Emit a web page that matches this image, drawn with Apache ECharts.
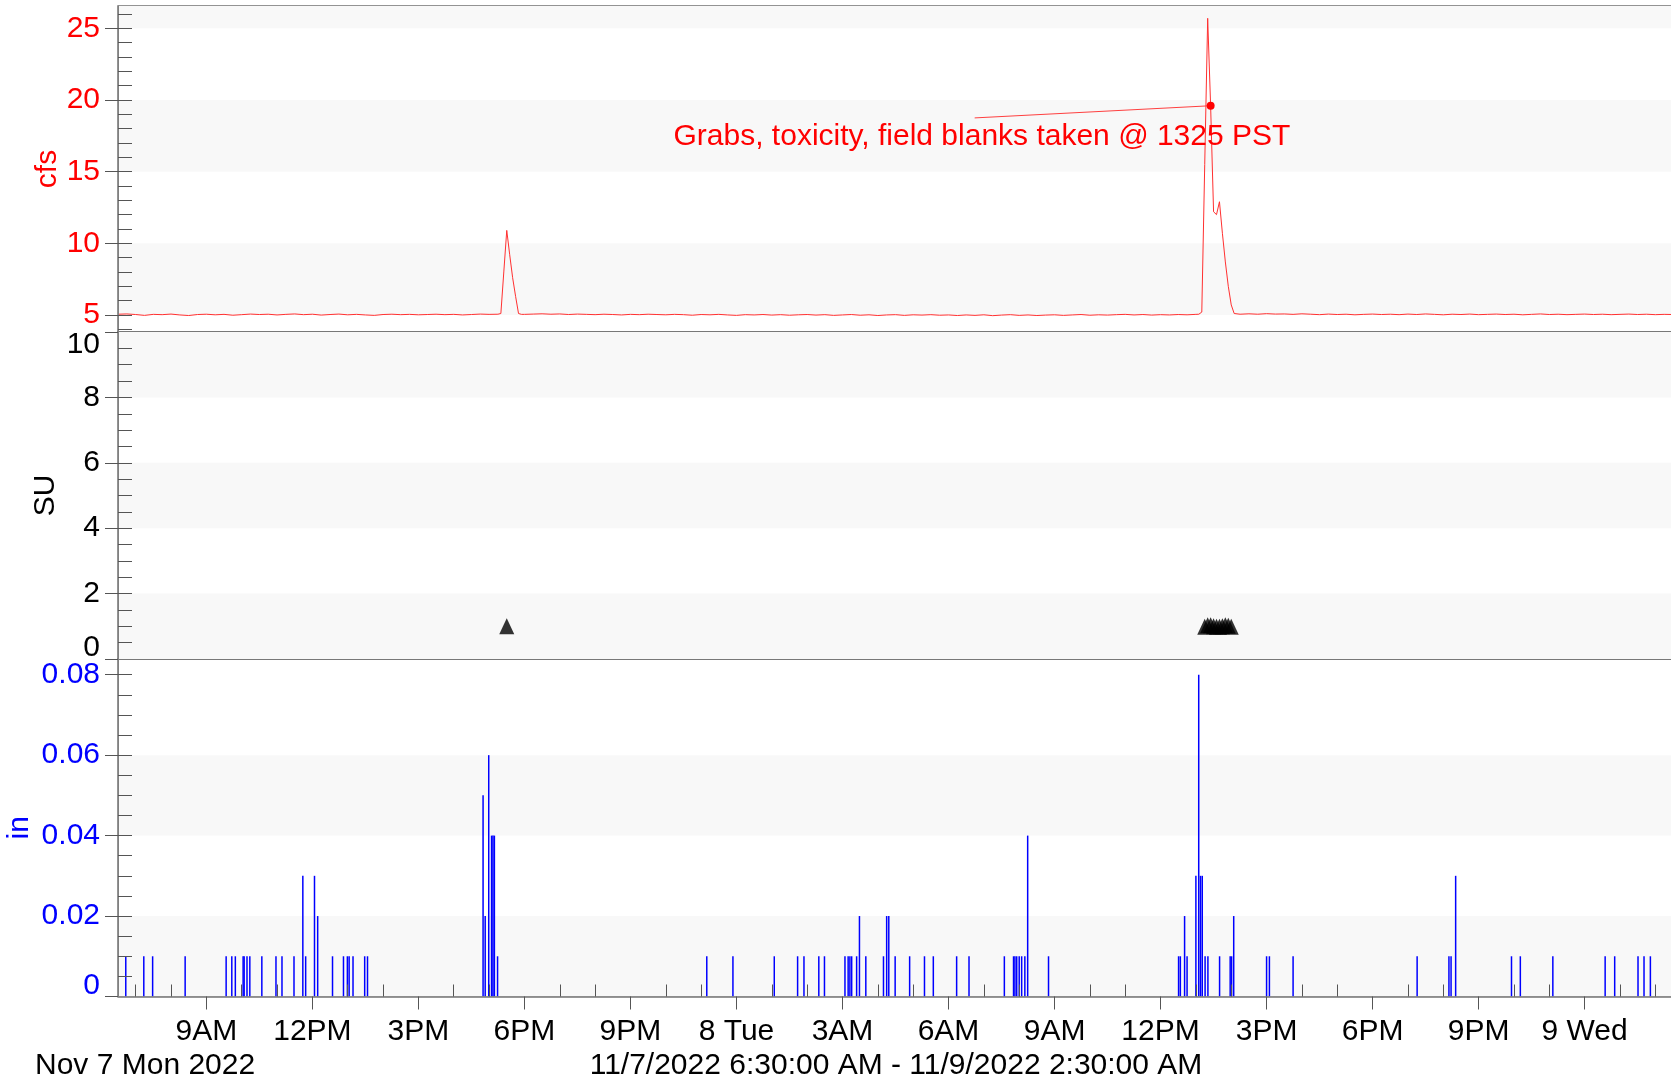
<!DOCTYPE html>
<html><head><meta charset="utf-8">
<script src="https://cdn.jsdelivr.net/npm/echarts@6/dist/echarts.min.js"></script>
<style>html,body{margin:0;padding:0;background:#fff}#c{width:1671px;height:1082px}</style>
</head><body><div id="c"></div>
<script>
// ---------- axis ticks / labels (x in hours since 11/7/2022 00:00) ----------
const xRange = [6.5, 50.5];
const xTickHours = [9,12,15,18,21,24,27,30,33,36,39,42,45,48];
const xTickLabels = ['9AM','12PM','3PM','6PM','9PM','8 Tue','3AM','6AM','9AM','12PM','3PM','6PM','9PM','9 Wed'];
const xMinorHours = [7,8,10,11,13,14,16,17,19,20,22,23,25,26,28,29,31,32,34,35,37,38,40,41,43,44,46,47,49,50];
const cfsTickValues = [5,10,15,20,25];
const cfsMinorValues = [4,5,6,7,8,9,10,11,12,13,14,15,16,17,18,19,20,21,22,23,24,25,26];
const suTickValues = [0,2,4,6,8,10];
const suMinorValues = [0.5,1,1.5,2,2.5,3,3.5,4,4.5,5,5.5,6,6.5,7,7.5,8,8.5,9,9.5];
const inTickValues = [0,0.02,0.04,0.06,0.08];
const inMinorValues = [0.005,0.01,0.015,0.02,0.025,0.03,0.035,0.04,0.045,0.05,0.055,0.06,0.065,0.07,0.075,0.08];

// ---------- cfs (flow) : 15-minute baseline from 6:30 Nov 7 ----------
const cfsBaseStart = 6.5, cfsBaseStep = 0.25;
const cfsBase = [
 5.05,5.07,5.03,4.97,5.04,5.02,5.06,5.00,4.96,5.03,5.05,5.01,
 5.04,4.98,5.02,5.06,5.03,5.05,5.00,5.04,5.07,5.02,5.05,4.99,
 5.03,5.06,5.01,5.04,5.00,4.97,5.03,5.05,5.02,5.04,5.01,5.03,
 5.05,5.02,5.04,5.00,5.03,5.06,5.04,5.05,5.05,5.05,5.04,5.06,
 5.08,5.05,5.07,5.03,5.06,5.04,5.02,5.05,5.03,5.00,5.04,5.02,
 5.05,5.03,5.01,5.04,5.02,4.98,5.03,5.01,5.04,5.00,4.97,5.02,
 5.00,5.03,4.99,5.02,4.98,5.01,5.03,4.99,5.02,4.97,5.00,5.03,
 4.98,5.01,4.96,5.00,5.02,4.97,5.01,4.99,5.02,4.98,5.00,4.96,
 5.00,4.97,5.01,4.95,4.99,5.02,4.97,5.00,4.96,4.99,5.01,4.97,
 5.00,5.03,4.98,5.01,4.99,5.02,5.04,5.00,5.03,4.99,5.02,5.00,
 5.03,5.01,5.04,5.05,5.05,5.05,5.05,5.05,5.08,5.05,5.09,5.06,
 5.07,5.04,5.08,5.05,5.02,5.06,5.03,5.05,5.01,5.04,5.06,5.03,
 5.05,5.02,5.06,5.03,5.07,5.04,5.01,5.05,5.03,5.06,5.02,5.04,
 5.06,5.03,5.05,5.01,5.04,5.07,5.03,5.05,5.02,5.04,5.06,5.03,
 5.05,5.02,5.04,5.06,5.03,5.05,5.02,5.04,5.03
];
// 5-minute detail around the two flow peaks
const cfsSpike1Start = 17.25;            // 17:15 Nov 7
const cfsSpike1 = [5.05,5.10,8.0,10.9,9.2,7.6,6.3,5.1,5.04];
const cfsSpike2Start = 37 + 1/12;        // 13:05 Nov 8
const cfsSpike2 = [5.05,5.2,15.5,25.7,19.6,12.2,12.0,12.9,10.7,8.7,7.0,5.7,5.1];
const spikeStep = 1/12;

// ---------- SU ----------
const suTimes = [17.5, 37.25,37.3333,37.4167,37.5,37.5833,37.6667,37.75,37.8333,37.9167,38.0];
const suValues = [1.0, 0.99,1.03,1.03,1.0,0.99,0.99,1.0,1.03,1.02,0.99];

// ---------- rain (in) ----------
const rainTimes = [
 6.72,7.23,7.48,8.40,9.56,9.72,9.82,10.04,10.07,10.15,10.23,10.57,10.97,11.14,11.48,11.73,11.81,12.06,12.15,12.57,12.88,12.99,13.04,13.15,13.48,13.56,
 16.83,16.89,16.99,17.07,17.11,17.15,17.24,
 23.16,23.90,25.07,25.73,25.91,26.33,26.49,27.07,27.16,27.21,27.26,27.40,27.48,27.66,28.16,28.25,28.31,28.49,28.90,29.32,29.57,30.23,30.58,31.58,31.84,31.88,31.93,32.00,32.07,32.16,32.24,32.83,
 36.51,36.56,36.68,36.75,37.00,37.08,37.13,37.18,37.26,37.34,37.67,37.97,38.01,38.07,39.00,39.08,39.75,43.26,44.16,44.22,44.35,45.93,46.18,47.10,48.58,48.85,49.51,49.68,49.86
];
const rainValues = [
 0.01,0.01,0.01,0.01,0.01,0.01,0.01,0.01,0.01,0.01,0.01,0.01,0.01,0.01,0.01,0.03,0.01,0.03,0.02,0.01,0.01,0.01,0.01,0.01,0.01,0.01,
 0.05,0.02,0.06,0.04,0.04,0.04,0.01,
 0.01,0.01,0.01,0.01,0.01,0.01,0.01,0.01,0.01,0.01,0.01,0.01,0.02,0.01,0.01,0.02,0.02,0.01,0.01,0.01,0.01,0.01,0.01,0.01,0.01,0.01,0.01,0.01,0.01,0.01,0.04,0.01,
 0.01,0.01,0.02,0.01,0.03,0.08,0.03,0.03,0.01,0.01,0.01,0.01,0.01,0.02,0.01,0.01,0.01,0.01,0.01,0.01,0.03,0.01,0.01,0.01,0.01,0.01,0.01,0.01,0.01
];

// annotation
const noteText = 'Grabs, toxicity, field blanks taken @ 1325 PST';
const notePoint = [37 + 5/12, 19.6];      // 13:25 Nov 8
const noteLeaderStart = [30.74, 18.75];

// ---------- assemble ----------
function spikePts(start, vals){ return vals.map((v,i)=>[start + i*spikeStep, v]); }
const s1 = spikePts(cfsSpike1Start, cfsSpike1);
const s2 = spikePts(cfsSpike2Start, cfsSpike2);
const ranges = [[s1[0][0], s1[s1.length-1][0]], [s2[0][0], s2[s2.length-1][0]]];
let cfsData = cfsBase.map((v,i)=>[cfsBaseStart + i*cfsBaseStep, v])
  .filter(p => !ranges.some(r => p[0] >= r[0]-1e-6 && p[0] <= r[1]+1e-6));
cfsData = cfsData.concat(s1, s2).sort((a,b)=>a[0]-b[0]);
const suData = suTimes.map((t,i)=>[t, suValues[i]]);
const rainData = rainTimes.map((t,i)=>[t, rainValues[i]]);

const FONT = 'Liberation Sans';
const FS = 30;
const band = '#f8f8f8';
const tickCol = '#555';
const gridCommon = {left:118, width:1555, show:true, borderColor:'#707070', borderWidth:1.5,
  backgroundColor:'transparent', containLabel:false, outerBoundsMode:'none'};

function hiddenX(gi){ return {type:'value', gridIndex:gi, min:xRange[0], max:xRange[1], show:false}; }
function mainY(gi, min, max, labels, ticks, color, name, gap, labelExtra){
  return {
    type:'value', gridIndex:gi, min:min, max:max, position:'left', z:10,
    name:name, nameLocation:'middle', nameRotate:90, nameGap:gap, nameMoveOverlap:false,
    nameTextStyle:{color:color, fontSize:FS, fontFamily:FONT},
    axisLine:{show:true, onZero:false, lineStyle:{color:'#808080', width:1}},
    axisTick:{show:true, inside:false, length:13, customValues:ticks, lineStyle:{color:tickCol}},
    axisLabel:Object.assign({show:true, customValues:labels, margin:18, color:color, fontSize:FS, fontFamily:FONT,
      padding:[6,0,0,0]}, labelExtra||{}),
    splitLine:{show:false}
  };
}
function innerY(gi, min, max, ticks){
  return {type:'value', gridIndex:gi, min:min, max:max, position:'left', z:10,
    axisLine:{show:false, onZero:false},
    axisTick:{show:true, inside:true, length:14, customValues:ticks, lineStyle:{color:tickCol}},
    axisLabel:{show:false}, splitLine:{show:false}};
}

const cfsMin = 3.81, cfsMax = 26.56, inMax = 0.0839;

const option = {
  animation:false,
  backgroundColor:'#ffffff',
  textStyle:{fontFamily:FONT},
  grid:[
    Object.assign({top:6, height:326}, gridCommon),
    Object.assign({top:332, height:327}, gridCommon),
    Object.assign({top:659, height:337.5}, gridCommon)
  ],
  xAxis:[
    hiddenX(0), hiddenX(1),
    {type:'value', gridIndex:2, min:xRange[0], max:xRange[1], position:'bottom', z:10,
     axisLine:{show:true, onZero:false, lineStyle:{color:'#808080', width:1.5}},
     axisTick:{show:true, inside:false, length:13, customValues:xTickHours, lineStyle:{color:tickCol}},
     axisLabel:{show:true, customValues:xTickHours, margin:20, color:'#000', fontSize:FS, fontFamily:FONT,
       formatter:v=>{const i=xTickHours.findIndex(h=>Math.abs(h-v)<1e-6); return i>=0?xTickLabels[i]:'';}},
     splitLine:{show:false}},
    {type:'value', gridIndex:2, min:xRange[0], max:xRange[1], position:'bottom', z:10,
     axisLine:{show:false, onZero:false},
     axisTick:{show:true, inside:true, length:12, customValues:xMinorHours, lineStyle:{color:tickCol}},
     axisLabel:{show:false}, splitLine:{show:false}}
  ],
  yAxis:[
    mainY(0, cfsMin, cfsMax, cfsTickValues, cfsTickValues, '#ff0000', 'cfs', 55),
    innerY(0, cfsMin, cfsMax, cfsMinorValues),
    mainY(1, 0, 10, suTickValues, suTickValues, '#000000', 'SU', 57,
      {lineHeight:22, padding:[2,0,0,0], verticalAlignMinLabel:'bottom', verticalAlignMaxLabel:'top'}),
    innerY(1, 0, 10, suMinorValues),
    mainY(2, 0, inMax, inTickValues, inTickValues, '#0000ff', 'in', 83,
      {lineHeight:22, padding:[0,0,0,0], verticalAlignMinLabel:'bottom'}),
    innerY(2, 0, inMax, inMinorValues)
  ],
  series:[
    {type:'line', xAxisIndex:0, yAxisIndex:0, data:cfsData, showSymbol:false, symbol:'none',
     lineStyle:{color:'#ff3030', width:1}, itemStyle:{color:'#ff3030'}, silent:true,
     markArea:{silent:true, itemStyle:{color:band},
       data:[[{yAxis:5},{yAxis:10}],[{yAxis:15},{yAxis:20}],[{yAxis:25},{yAxis:cfsMax}]]},
     markLine:{silent:true, symbol:['none','none'], label:{show:false},
       lineStyle:{color:'#ff4040', width:1, type:'solid'},
       data:[[{coord:noteLeaderStart},{coord:notePoint}]]},
     markPoint:{silent:true, symbol:'circle', symbolSize:8, itemStyle:{color:'#ff0000'}, label:{show:false},
       data:[{coord:notePoint}]}
    },
    {type:'scatter', xAxisIndex:1, yAxisIndex:2, data:suData, symbol:'triangle', symbolSize:[15,16],
     itemStyle:{color:'#000000'}, silent:true,
     markArea:{silent:true, itemStyle:{color:band},
       data:[[{yAxis:0},{yAxis:2}],[{yAxis:4},{yAxis:6}],[{yAxis:8},{yAxis:10}]]}
    },
    {type:'bar', xAxisIndex:2, yAxisIndex:4, data:rainData, barWidth:1.5,
     itemStyle:{color:'#0000ff'}, silent:true,
     markArea:{silent:true, itemStyle:{color:band},
       data:[[{yAxis:0},{yAxis:0.02}],[{yAxis:0.04},{yAxis:0.06}]]}
    }
  ],
  graphic:[
    {type:'text', x:673.5, y:137, z:100, silent:true,
     style:{text:noteText, fill:'#ff0000', font:FS+'px "'+FONT+'"', align:'left', verticalAlign:'middle'}},
    {type:'text', x:35, y:1066, z:100, silent:true,
     style:{text:'Nov 7 Mon 2022', fill:'#000', font:FS+'px "'+FONT+'"', align:'left', verticalAlign:'middle'}},
    {type:'text', x:896, y:1066, z:100, silent:true,
     style:{text:'11/7/2022 6:30:00 AM - 11/9/2022 2:30:00 AM', fill:'#000', font:FS+'px "'+FONT+'"', align:'center', verticalAlign:'middle'}}
  ]
};
const chart = echarts.init(document.getElementById('c'), null, {renderer:'canvas'});
chart.setOption(option);
</script></body></html>
